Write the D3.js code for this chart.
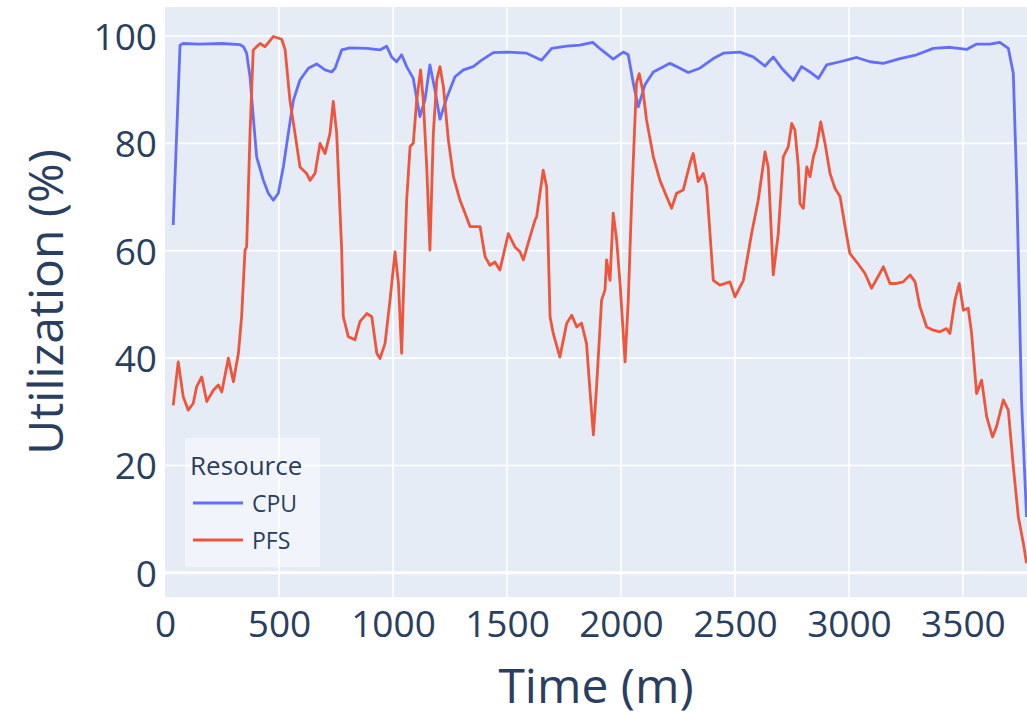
<!DOCTYPE html>
<html>
<head>
<meta charset="utf-8">
<script src="https://cdn.jsdelivr.net/npm/d3@7"></script>
<style>
  body { margin: 0; background: #fff; }
  text { font-family: "Open Sans", "Noto Sans", sans-serif; fill: #2a3f5f; }
</style>
</head>
<body>
<div id="chart"></div>
<script>
// CPU utilization (%) over time (minutes)
var cpuTime = [36, 66, 79, 150, 250, 329, 344, 358, 373, 387, 402, 431, 453, 475, 497, 519, 541, 563, 592, 629, 665, 702, 731, 746, 775, 811, 885, 943, 972, 994, 1016, 1038, 1060, 1089, 1118, 1140, 1162, 1184, 1206, 1236, 1272, 1309, 1352, 1389, 1440, 1499, 1586, 1652, 1696, 1762, 1820, 1876, 1915, 1966, 2010, 2032, 2054, 2076, 2105, 2142, 2215, 2259, 2295, 2346, 2405, 2449, 2522, 2580, 2632, 2668, 2705, 2756, 2792, 2829, 2866, 2902, 2961, 3034, 3092, 3151, 3224, 3297, 3370, 3443, 3516, 3560, 3618, 3662, 3699, 3721, 3736, 3757, 3779];
var cpuUtil = [64.8, 98.3, 98.6, 98.5, 98.6, 98.4, 98.0, 96.8, 92.4, 85.0, 77.5, 73.2, 70.7, 69.4, 70.7, 75.6, 81.9, 88.0, 91.8, 94.0, 94.8, 93.7, 93.3, 94.0, 97.4, 97.8, 97.7, 97.4, 98.1, 96.1, 95.2, 96.5, 94.3, 92.1, 85.0, 88.0, 94.6, 90.0, 84.5, 88.5, 92.4, 93.7, 94.3, 95.5, 96.9, 97.0, 96.8, 95.5, 97.7, 98.1, 98.3, 98.8, 97.4, 95.7, 97.0, 96.5, 91.2, 86.8, 90.9, 93.3, 94.9, 94.0, 93.2, 94.0, 95.8, 96.8, 97.0, 96.1, 94.4, 96.1, 94.0, 91.7, 94.3, 93.3, 92.1, 94.6, 95.2, 96.0, 95.2, 94.9, 95.8, 96.5, 97.7, 97.9, 97.5, 98.5, 98.5, 98.8, 97.7, 93.0, 72.0, 32.2, 10.4];

// PFS utilization (%) over time (minutes)
var pfsTime = [36, 58, 80, 102, 124, 139, 161, 183, 212, 234, 249, 278, 300, 322, 336, 351, 358, 373, 387, 417, 439, 475, 512, 527, 548, 570, 592, 621, 636, 658, 680, 702, 724, 738, 753, 775, 782, 804, 833, 855, 885, 907, 929, 943, 965, 987, 1009, 1024, 1038, 1045, 1060, 1075, 1089, 1104, 1121, 1133, 1148, 1162, 1177, 1192, 1206, 1221, 1243, 1265, 1294, 1316, 1338, 1367, 1382, 1404, 1425, 1447, 1469, 1506, 1535, 1557, 1572, 1601, 1623, 1630, 1659, 1674, 1689, 1703, 1732, 1762, 1784, 1806, 1827, 1849, 1864, 1879, 1893, 1915, 1930, 1937, 1952, 1966, 1981, 1996, 2018, 2032, 2047, 2068, 2080, 2098, 2112, 2142, 2171, 2200, 2222, 2244, 2273, 2303, 2317, 2339, 2361, 2376, 2405, 2434, 2478, 2500, 2537, 2573, 2602, 2632, 2646, 2668, 2690, 2712, 2734, 2749, 2763, 2778, 2785, 2800, 2815, 2829, 2844, 2858, 2876, 2895, 2917, 2939, 2961, 2983, 3004, 3034, 3070, 3099, 3128, 3151, 3180, 3209, 3238, 3268, 3290, 3311, 3341, 3370, 3399, 3428, 3443, 3465, 3484, 3502, 3523, 3538, 3560, 3582, 3604, 3630, 3647, 3677, 3699, 3721, 3743, 3765, 3779];
var pfsUtil = [31.2, 39.3, 32.8, 30.3, 31.6, 34.7, 36.5, 31.9, 34.0, 35.0, 33.7, 40.0, 35.6, 40.9, 47.7, 60.1, 60.7, 81.9, 97.4, 98.6, 98.0, 99.9, 99.4, 97.4, 88.0, 81.9, 75.6, 74.4, 73.1, 74.4, 80.0, 78.1, 81.9, 87.8, 81.9, 60.1, 47.7, 44.0, 43.4, 46.8, 48.3, 47.7, 40.9, 39.9, 42.7, 50.8, 59.8, 53.9, 40.9, 50.8, 69.4, 79.4, 80.0, 88.0, 93.7, 88.0, 75.6, 60.1, 81.9, 91.8, 94.3, 90.6, 80.6, 73.8, 69.4, 67.0, 64.5, 64.5, 64.5, 58.9, 57.3, 57.9, 56.4, 63.2, 60.7, 59.8, 58.3, 62.6, 65.7, 66.3, 75.0, 71.9, 47.7, 44.6, 40.2, 46.5, 48.0, 45.8, 46.5, 42.7, 34.0, 25.7, 34.7, 50.8, 52.7, 58.3, 54.5, 67.0, 62.0, 53.9, 39.3, 50.8, 69.4, 91.2, 93.0, 89.3, 84.4, 77.5, 73.1, 70.1, 67.9, 70.7, 71.3, 76.3, 78.1, 72.9, 74.4, 71.9, 54.5, 53.6, 54.2, 51.4, 54.5, 63.2, 69.4, 78.4, 75.6, 55.5, 63.2, 77.5, 79.4, 83.7, 82.5, 75.6, 68.8, 67.9, 75.6, 73.8, 77.5, 79.4, 84.0, 80.0, 74.4, 71.6, 70.1, 64.5, 59.5, 57.9, 55.8, 53.0, 55.2, 57.0, 53.9, 53.9, 54.2, 55.5, 54.2, 49.6, 45.8, 45.2, 44.9, 45.5, 44.6, 50.8, 53.9, 48.9, 49.3, 44.6, 33.4, 35.9, 29.1, 25.3, 27.2, 32.2, 30.3, 19.8, 10.4, 5.5, 1.8];

var yTicks = [0, 20, 40, 60, 80, 100];
var xTicks = [0, 500, 1000, 1500, 2000, 2500, 3000, 3500];
var seriesNames = ["CPU", "PFS"];
var seriesColors = ["#636efa", "#EF553B"];

var W = 1027, H = 717;
var plotL = 165, plotR = 1027, plotT = 7, plotB = 597;

var svg = d3.select("#chart").append("svg")
  .attr("width", W)
  .attr("height", H);

var x = d3.scaleLinear().domain([0, 3781]).range([plotL, plotR]);
var y = d3.scaleLinear().domain([-4.5, 105.4]).range([plotB, plotT]);

// plot background
svg.append("rect")
  .attr("x", plotL).attr("y", plotT)
  .attr("width", plotR - plotL).attr("height", plotB - plotT)
  .attr("fill", "#E5ECF6");

// gridlines
svg.append("g").selectAll("line.vg")
  .data(xTicks.filter(function(d) { return d > 0; }))
  .enter().append("line")
  .attr("x1", function(d) { return x(d); }).attr("x2", function(d) { return x(d); })
  .attr("y1", plotT).attr("y2", plotB)
  .attr("stroke", "#fff").attr("stroke-width", 1.6);

svg.append("g").selectAll("line.hg")
  .data(yTicks)
  .enter().append("line")
  .attr("x1", plotL).attr("x2", plotR)
  .attr("y1", function(d) { return y(d); }).attr("y2", function(d) { return y(d); })
  .attr("stroke", "#fff").attr("stroke-width", function(d) { return d == 0 ? 3 : 1.6; });

// axes (labels only)
var yAxis = svg.append("g")
  .attr("transform", "translate(" + (plotL - 8) + ",0)")
  .call(d3.axisLeft(y).tickValues(yTicks).tickSize(0).tickPadding(0));
yAxis.select(".domain").remove();
yAxis.selectAll("text")
  .style("font-size", "37px")
  .style("fill", "#2a3f5f")
  .attr("dy", "0.36em");

var xAxis = svg.append("g")
  .attr("transform", "translate(0," + (plotB + 13) + ")")
  .call(d3.axisBottom(x).tickValues(xTicks).tickFormat(d3.format("d")).tickSize(0).tickPadding(0));
xAxis.select(".domain").remove();
xAxis.selectAll("text")
  .style("font-size", "37px")
  .style("fill", "#2a3f5f")
  .attr("dy", "0.72em");

// lines
var line = d3.line()
  .x(function(d) { return x(d[0]); })
  .y(function(d) { return y(d[1]); });

var cpuData = cpuTime.map(function(t, i) { return [t, cpuUtil[i]]; });
var pfsData = pfsTime.map(function(t, i) { return [t, pfsUtil[i]]; });

svg.append("path")
  .datum(cpuData)
  .attr("d", line)
  .attr("fill", "none")
  .attr("stroke", seriesColors[0])
  .attr("stroke-width", 2.8)
  .attr("stroke-linejoin", "round");

svg.append("path")
  .datum(pfsData)
  .attr("d", line)
  .attr("fill", "none")
  .attr("stroke", seriesColors[1])
  .attr("stroke-width", 2.8)
  .attr("stroke-linejoin", "round");

// axis titles
svg.append("text")
  .attr("x", (plotL + plotR) / 2)
  .attr("y", 703)
  .attr("text-anchor", "middle")
  .style("font-size", "48px")
  .text("Time (m)");

svg.append("text")
  .attr("transform", "translate(63," + ((plotT + plotB) / 2) + ")rotate(-90)")
  .attr("text-anchor", "middle")
  .style("font-size", "48px")
  .text("Utilization (%)");

// legend
var legend = svg.append("g");
legend.append("rect")
  .attr("x", 185).attr("y", 438)
  .attr("width", 135).attr("height", 129)
  .attr("fill", "#ffffff").attr("fill-opacity", 0.45);
legend.append("text")
  .attr("x", 190).attr("y", 475)
  .style("font-size", "26px")
  .text("Resource");

var items = legend.selectAll("g.item")
  .data(seriesNames)
  .enter().append("g")
  .attr("transform", function(d, i) { return "translate(0," + (503 + i * 37) + ")"; });
items.append("line")
  .attr("x1", 193).attr("x2", 243)
  .attr("stroke", function(d, i) { return seriesColors[i]; })
  .attr("stroke-width", 2.8);
items.append("text")
  .attr("x", 252).attr("y", 9)
  .style("font-size", "23px")
  .text(function(d) { return d; });
</script>
</body>
</html>
